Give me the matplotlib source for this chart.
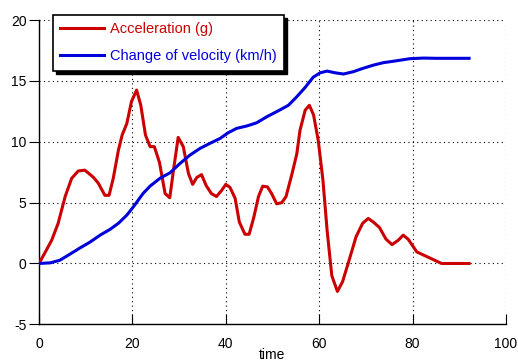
import matplotlib
matplotlib.use("Agg")
import matplotlib.pyplot as plt
from matplotlib.patches import Rectangle

plt.rcParams['font.family'] = ['Liberation Sans', 'DejaVu Sans']
plt.rcParams['axes.unicode_minus'] = False

# Acceleration (g)
acc_t = [0, 1.3, 2.7, 4.1, 5.6, 7.0, 8.4, 9.8, 11.6, 12.7, 14.1, 15.0, 15.9, 17.0, 17.8,
         18.8, 19.8, 20.9, 21.8, 22.8, 23.8, 24.7, 25.8, 27.0, 28.0, 28.9, 29.8, 30.9,
         32.0, 32.9, 33.8, 34.8, 35.8, 36.9, 38.0, 39.1, 40.0, 40.9, 42.0, 42.9, 44.1,
         45.0, 46.0, 47.0, 47.9, 48.9, 49.8, 50.9, 52.0, 52.9, 54.1, 55.2, 55.9, 57.0,
         57.9, 58.8, 59.8, 60.8, 61.7, 62.7, 63.9, 65.0, 66.2, 67.9, 69.3, 70.5, 71.6,
         72.9, 74.3, 75.6, 76.9, 78.0, 79.1, 80.9, 83.7, 86.2, 92.1]
acc_g = [0, 0.9, 1.9, 3.3, 5.5, 7.0, 7.6, 7.67, 7.1, 6.6, 5.6, 5.6, 7.0, 9.3, 10.55,
         11.5, 13.3, 14.25, 13.0, 10.55, 9.6, 9.6, 8.3, 5.75, 5.4, 7.95, 10.36, 9.6,
         7.4, 6.5, 7.07, 7.3, 6.4, 5.75, 5.5, 6.0, 6.5, 6.25, 5.35, 3.4, 2.4,
         2.4, 3.8, 5.5, 6.35, 6.3, 5.75, 4.9, 5.0, 5.5, 7.25, 9.0, 10.96, 12.6,
         13.0, 12.2, 10.1, 6.85, 2.7, -1.0, -2.3, -1.5, 0, 2.2, 3.3, 3.7, 3.4,
         2.96, 2.0, 1.55, 1.9, 2.33, 1.97, 0.95, 0.45, 0, 0]

# Change of velocity (km/h)
vel_t = [0, 2.4, 4.5, 6.6, 8.8, 10.9, 13.1, 15.2, 17.0, 18.8, 20.2, 22.3, 23.8, 25.9,
         28.05, 30.2, 32.3, 34.5, 36.6, 38.8, 40.5, 42.3, 44.5, 46.6, 48.8, 51.5, 53.4,
         55.2, 57.0, 58.7, 60.2, 61.7, 63.4, 65.2, 67.3, 69.4, 71.6, 73.7, 76.6, 79.4,
         82.3, 85.2, 92.1]
vel_kmh = [0, 0.05, 0.27, 0.76, 1.28, 1.75, 2.33, 2.8, 3.3, 3.97, 4.65, 5.76, 6.36, 7.0,
           7.45, 8.22, 8.9, 9.46, 9.87, 10.28, 10.74, 11.1, 11.3, 11.56, 12.06, 12.6, 13.0,
           13.7, 14.47, 15.3, 15.67, 15.81, 15.67, 15.57, 15.76, 16.04, 16.3, 16.5, 16.66,
           16.83, 16.88, 16.86, 16.86]

xticks = [0, 20, 40, 60, 80, 100]
yticks = [-5, 0, 5, 10, 15, 20]

fig = plt.figure(figsize=(5.18, 3.63), dpi=100)
ax = fig.add_axes([0.0753, 0.1066, 0.9015, 0.838])

ax.plot(acc_t, acc_g, color='#cc0000', lw=2.2, label='Acceleration (g)', zorder=3)
ax.plot(vel_t, vel_kmh, color='#0000dd', lw=2.2, label='Change of velocity (km/h)', zorder=3)

ax.set_xlim(0, 100)
ax.set_ylim(-5, 20)
ax.set_xticks(xticks)
ax.set_yticks(yticks)
ax.grid(True, color='black', linestyle=(0, (1, 3)), linewidth=0.8)
for s in ['top', 'right']:
    ax.spines[s].set_visible(False)
for s in ['left', 'bottom']:
    ax.spines[s].set_linewidth(1.0)
ax.tick_params(axis='y', direction='out', length=7, labelsize=10, pad=2)
ax.tick_params(axis='x', direction='in', length=7, labelsize=10, pad=9)
ax.set_xlabel('time', fontsize=10, labelpad=-2)

leg = ax.legend(loc='upper left', bbox_to_anchor=(0.030, 1.017), borderaxespad=0,
                fontsize=10.5, frameon=True, fancybox=False, shadow=False, framealpha=1,
                edgecolor='black', handlelength=3.0, handletextpad=0.4,
                borderpad=0.5, labelspacing=0.9)
leg.get_frame().set_linewidth(1.2)
leg.set_zorder(6)
for txt, line in zip(leg.get_texts(), leg.get_lines()):
    txt.set_color(line.get_color())

fig.canvas.draw()
bb = leg.get_window_extent()
inv = fig.transFigure.inverted()
(x0, y0), (x1, y1) = inv.transform([[bb.x0, bb.y0], [bb.x1, bb.y1]])
dx = 3 / 518
dy = 3 / 363
shadow = Rectangle((x0 + dx, y0 - dy), x1 - x0, y1 - y0, transform=fig.transFigure,
                   facecolor='black', edgecolor='black', zorder=5, clip_on=False)
ax.add_artist(shadow)

fig.savefig('out.png', dpi=100)
